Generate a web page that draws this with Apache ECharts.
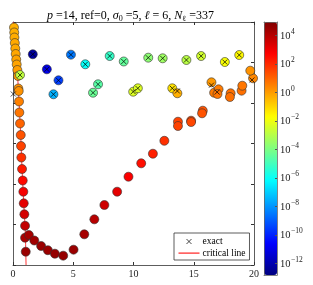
<!DOCTYPE html>
<html><head><meta charset="utf-8">
<script src="https://cdn.jsdelivr.net/npm/echarts@6/dist/echarts.min.js"></script>
<style>html,body{margin:0;padding:0;background:#fff}#c{width:313px;height:285px}</style>
</head><body><div id="c"></div>
<script>
// computed zeros (circles): real part, imag-position, log10 of colour quantity
const circX = [0.083,0.10,0.117,0.15,0.19,0.225,0.267,0.308,0.358,0.417,0.442,0.475,0.50,0.525,0.583,0.642,0.667,0.692,0.75,0.808,0.858,0.892,0.942,1.0,1.0,1.058,
  1.317,1.767,2.333,2.892,3.475,4.167,5.025,5.917,6.75,7.583,8.642,9.583,10.64,11.61,12.56,13.69,13.69,14.78,14.78,15.75,15.69,16.69,17.06,16.97,16.47,18.06,18.0,18.97,19.03,19.92,19.69,
  13.22,13.64,9.975,10.36,
  1.642,2.808,3.775,3.358,4.808,6.0,7.058,6.642,8.025,9.19,11.225,12.42,14.39,15.61,17.58,18.775,0.583];
const circY = [5.864,5.741,5.617,5.481,5.346,5.21,5.074,4.951,4.815,4.667,4.358,4.296,4.037,3.765,3.494,3.21,2.938,2.654,2.37,2.086,1.81,1.523,1.252,0.968,0.674,0.328,
  0.741,0.605,0.469,0.365,0.279,0.23,0.378,0.758,1.128,1.481,1.81,2.18,2.511,2.748,3.067,3.538,3.432,3.563,3.53,3.81,3.746,4.254,4.338,4.222,4.511,4.24,4.148,4.304,4.427,4.61,4.798,
  4.363,4.24,4.279,4.363,
  5.203,4.832,4.56,4.215,5.193,4.956,4.462,4.254,5.16,5.025,5.119,5.104,5.062,5.16,5.012,5.185,4.691];
const circLog = [-0.3,-0.3,-0.25,-0.2,-0.2,-0.15,-0.1,-0.1,0,0,0.2,0.2,0.5,0.7,1.0,1.3,1.6,1.9,2.3,2.6,2.9,3.2,3.5,3.8,4.2,4.5,
  4.3,4.4,4.5,4.5,4.6,4.6,4.5,4.3,4.0,3.6,3.2,2.8,2.5,2.2,1.9,1.6,1.6,1.5,1.5,1.3,1.3,0.6,0.6,0.7,0.1,0.8,0.8,0.8,0.7,0.4,0.2,
  -1.2,-0.3,-2.3,-2.3,
  -12.3,-11,-9.5,-7.5,-8.5,-6,-4.6,-4.3,-5.2,-4.4,-3.7,-3.4,-2.9,-2.5,-1.8,-1.6,-2.8];
// exact zeros (x markers)
const exactX = [0.025,16.94,19.83,16.47,13.64,13.22,9.975,10.36,1.642,2.808,3.775,3.358,4.808,6.0,7.058,6.642,8.025,9.19,11.225,12.42,14.39,15.61,17.58,18.775,0.583];
const exactY = [4.222,4.27,4.568,4.44,4.296,4.363,4.279,4.363,5.203,4.832,4.56,4.215,5.193,4.956,4.462,4.254,5.16,5.025,5.119,5.104,5.062,5.16,5.012,5.185,4.691];
// critical line
const critX = [0.025,0.10,0.225,0.36,0.50,0.64,0.75,0.89,1.0,1.05,1.083];
const critY = [6.0,5.74,5.21,4.8,4.04,3.2,2.37,1.52,0.97,0.5,0.0];
// axes
const xTicks = [0,5,10,15,20];
const cbTicks = [-12,-10,-8,-6,-4,-2,0,2,4];
const cbMin = -12.8, cbMax = 4.96;

const jet = ['#000080','#0000ff','#0080ff','#00ffff','#80ff80','#ffff00','#ff8000','#ff0000','#800000'];
const SERIF = 'Liberation Serif';
const chart = echarts.init(document.getElementById('c'));
const xMark = 'path://M0,0M22,8M8,1.5L13,6.5M13,1.5L8,6.5';
const lineMark = 'path://M0,0M22,8M0,3.5L21,3.5L21,4.7L0,4.7Z';
const hidden = {axisTick: {show: false}, axisLabel: {show: false}, splitLine: {show: false}};
chart.setOption({
  animation: false,
  title: {
    text: '{i|p} =14, ref=0, {i|σ}{s|0} =5, {i|ℓ} = 6, {i|N}{s|ℓ} =337',
    left: 42, top: 4,
    textStyle: {fontFamily: SERIF, fontSize: 12, fontWeight: 'normal', color: '#000',
      rich: {i: {fontStyle: 'italic', fontFamily: SERIF, fontSize: 12},
             s: {fontFamily: SERIF, fontSize: 8, verticalAlign: 'bottom', padding: [6,0,0,0]}}}
  },
  grid: [
    {left: 13, top: 22, width: 241, height: 243, show: false},
    {left: 264, top: 22, width: 13, height: 253, show: false}
  ],
  xAxis: [
    {gridIndex: 0, type: 'value', min: 0, max: 20, interval: 5, position: 'bottom',
     axisLine: {onZero: false, lineStyle: {color: '#333', width: 0.8}}, axisTick: {inside: true, length: 3, lineStyle: {color: '#333'}},
     axisLabel: {fontFamily: SERIF, fontSize: 10, color: '#222', margin: 4, formatter: v => xTicks.includes(v) ? String(v) : ''},
     splitLine: {show: false}},
    {gridIndex: 0, type: 'value', min: 0, max: 20, interval: 5, position: 'top',
     axisLine: {onZero: false, lineStyle: {color: '#333', width: 0.8}}, axisTick: {inside: true, length: 3, lineStyle: {color: '#333'}},
     axisLabel: {show: false}, splitLine: {show: false}},
    Object.assign({gridIndex: 1, type: 'value', min: 0, max: 1, position: 'bottom', z: 6,
     axisLine: {onZero: false, lineStyle: {color: '#666', width: 0.8}}}, hidden),
    Object.assign({gridIndex: 1, type: 'value', min: 0, max: 1, position: 'top', z: 6,
     axisLine: {onZero: false, lineStyle: {color: '#666', width: 0.8}}}, hidden)
  ],
  yAxis: [
    {gridIndex: 0, type: 'value', min: 0, max: 6, interval: 1, position: 'left',
     axisLine: {show: true, onZero: false, lineStyle: {color: '#333', width: 0.8}}, axisTick: {show: true, inside: true, length: 3, lineStyle: {color: '#333'}},
     axisLabel: {show: false}, splitLine: {show: false}},
    {gridIndex: 0, type: 'value', min: 0, max: 6, interval: 1, position: 'right',
     axisLine: {show: true, onZero: false, lineStyle: {color: '#333', width: 0.8}}, axisTick: {show: true, inside: true, length: 3, lineStyle: {color: '#333'}},
     axisLabel: {show: false}, splitLine: {show: false}},
    {gridIndex: 1, type: 'value', min: cbMin, max: cbMax, position: 'right', z: 6,
     axisLine: {show: true, onZero: false, lineStyle: {color: '#666', width: 0.8}},
     axisTick: {show: true, inside: true, length: 2, customValues: cbTicks, lineStyle: {color: '#555'}},
     axisLabel: {show: true, customValues: cbTicks, margin: 3, fontFamily: SERIF, fontSize: 10.5, color: '#222',
       formatter: v => '{b|10}{s|' + String(Math.round(v)).replace('-', '−') + '}',
       rich: {b: {fontFamily: SERIF, fontSize: 10.5, lineHeight: 12, verticalAlign: 'bottom', color: '#222'},
              s: {fontFamily: SERIF, fontSize: 7.5, lineHeight: 8, verticalAlign: 'bottom', padding: [0,0,6,0.5], color: '#222'}}},
     splitLine: {show: false}},
    Object.assign({gridIndex: 1, type: 'value', min: cbMin, max: cbMax, position: 'left', z: 6,
     axisLine: {show: true, onZero: false, lineStyle: {color: '#666', width: 0.8}}}, hidden)
  ],
  visualMap: {
    type: 'continuous', min: cbMin, max: cbMax, dimension: 2, seriesIndex: 1,
    inRange: {color: jet}, calculable: false, realtime: false,
    left: 264, top: 22, itemWidth: 13, itemHeight: 253, padding: 0, text: null,
    showLabel: false, hoverLink: false
  },
  legend: {
    orient: 'vertical', left: 174, top: 233, padding: [2, 4, 2, 2], itemGap: 0,
    itemWidth: 22, itemHeight: 8, borderColor: '#333', borderWidth: 0.8, backgroundColor: '#fff',
    textStyle: {fontFamily: SERIF, fontSize: 9.5, color: '#000', padding: [0,0,0,-3]},
    data: [
      {name: 'exact', icon: xMark, itemStyle: {color: 'none', borderColor: '#000', borderWidth: 0.9}},
      {name: 'critical line', icon: lineMark, itemStyle: {color: '#ff2020', borderWidth: 0}}
    ]
  },
  series: [
    {name: 'critical line', type: 'line', xAxisIndex: 0, yAxisIndex: 0, symbol: 'none', z: 1,
     color: '#ff2020', lineStyle: {color: '#ff2020', width: 0.9}, data: critX.map((x, i) => [x, critY[i]])},
    {name: 'computed', type: 'scatter', xAxisIndex: 0, yAxisIndex: 0, symbolSize: 9, z: 2,
     itemStyle: {borderColor: '#333', borderWidth: 0.6, opacity: 1},
     data: circX.map((x, i) => [x, circY[i], circLog[i]])},
    {name: 'exact', type: 'scatter', xAxisIndex: 0, yAxisIndex: 0, symbol: 'path://M0,0L10,10M10,0L0,10', symbolSize: 5, z: 3,
     itemStyle: {color: 'none', borderColor: '#000', borderWidth: 0.9},
     data: exactX.map((x, i) => [x, exactY[i]])}
  ]
});
</script>
</body></html>
